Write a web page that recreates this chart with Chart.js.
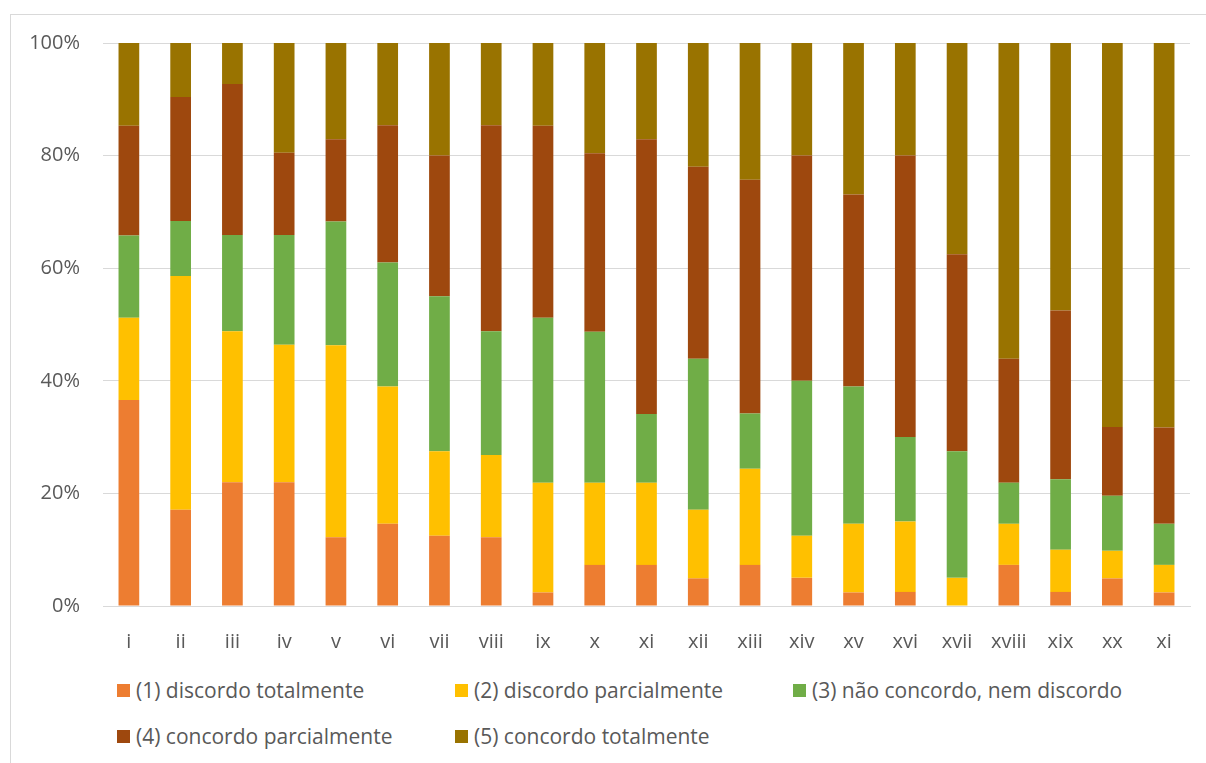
<!DOCTYPE html>
<html lang="pt">

<head>
  <meta charset="UTF-8" />
  <title>Respostas por item</title>
  <script src="https://cdn.jsdelivr.net/npm/chart.js"></script>
  <style>
    html,
    body {
      margin: 0;
      padding: 0;
      background: #fff;
      font-family: 'Open Sans', Lato, sans-serif;
      color: #595959;
      overflow: hidden;
    }

    #frame {
      position: absolute;
      left: 10px;
      top: 14px;
      width: 1210px;
      height: 770px;
      border: 1px solid #d9d9d9;
    }

    #chart-box {
      position: absolute;
      left: 0;
      top: 0;
      width: 1206px;
      height: 660px;
    }

    #legend {
      position: absolute;
      left: 117px;
      top: 677px;
      width: 1030px;
      display: flex;
      flex-wrap: wrap;
    }

    .item {
      width: 338px;
      height: 46px;
      display: flex;
      align-items: flex-start;
      font-size: 21px;
      line-height: 26px;
    }

    .item span.box {
      width: 13px;
      height: 13px;
      margin: 7px 6px 0 0;
      flex: none;
    }
  </style>
</head>

<body>
  <div id="frame"></div>
  <div id="chart-box">
    <canvas id="likertChart" width="1206" height="660"></canvas>
  </div>
  <div id="legend"></div>

  <script>
    // itens do questionario (o ultimo vem assim no original)
    const items = ['i', 'ii', 'iii', 'iv', 'v', 'vi', 'vii', 'viii', 'ix', 'x', 'xi',
      'xii', 'xiii', 'xiv', 'xv', 'xvi', 'xvii', 'xviii', 'xix', 'xx', 'xi'];

    // percentagens de cada resposta por item
    const discordoTotal = [36.6, 17.1, 22.0, 22.0, 12.2, 14.6, 12.5, 12.2, 2.4, 7.3, 7.3,
      4.9, 7.3, 5.0, 2.4, 2.5, 0, 7.3, 2.5, 4.9, 2.4];
    const discordoParcial = [14.6, 41.5, 26.8, 24.4, 34.1, 24.4, 15.0, 14.6, 19.5, 14.6, 14.6,
      12.2, 17.1, 7.5, 12.2, 12.5, 5.0, 7.3, 7.5, 4.9, 4.9];
    const neutro = [14.6, 9.8, 17.1, 19.5, 22.0, 22.0, 27.5, 22.0, 29.3, 26.8, 12.2,
      26.8, 9.8, 27.5, 24.4, 15.0, 22.5, 7.3, 12.5, 9.8, 7.3];
    const concordoParcial = [19.5, 22.0, 26.8, 14.6, 14.6, 24.4, 25.0, 36.6, 34.1, 31.7, 48.8,
      34.1, 41.5, 40.0, 34.1, 50.0, 35.0, 22.0, 30.0, 12.2, 17.1];
    const concordoTotal = [14.7, 9.6, 7.3, 19.5, 17.1, 14.6, 20.0, 14.6, 14.7, 19.6, 17.1,
      22.0, 24.3, 20.0, 26.9, 20.0, 37.5, 56.1, 47.5, 68.2, 68.3];

    const yTicks = [0, 20, 40, 60, 80, 100];

    const seriesNames = ['(1) discordo totalmente', '(2) discordo parcialmente',
      '(3) não concordo, nem discordo', '(4) concordo parcialmente', '(5) concordo totalmente'];
    const seriesColors = ['#ED7D31', '#FFC000', '#70AD47', '#9E480E', '#997300'];
    const seriesData = [discordoTotal, discordoParcial, neutro, concordoParcial, concordoTotal];

    const tickFont = { family: 'Open Sans', size: 20 };

    const ctx = document.getElementById('likertChart').getContext('2d');

    const likertChart = new Chart(ctx, {
      type: 'bar',
      data: {
        labels: items,
        datasets: seriesData.map((d, i) => ({
          label: seriesNames[i],
          data: d,
          backgroundColor: seriesColors[i],
          borderWidth: 0,
          categoryPercentage: 1,
          barPercentage: 0.4
        }))
      },
      options: {
        responsive: false,
        animation: false,
        devicePixelRatio: 1,
        layout: { padding: { left: 0, top: 43, right: 16, bottom: 0 } },
        scales: {
          x: {
            stacked: true,
            grid: { display: false },
            border: { display: true, color: '#d9d9d9', width: 1 },
            ticks: { color: '#595959', font: tickFont, padding: 16, maxRotation: 0 },
            afterFit: (scale) => { scale.height = 54; }
          },
          y: {
            stacked: true,
            min: 0,
            max: 100,
            afterBuildTicks: (scale) => { scale.ticks = yTicks.map(v => ({ value: v })); },
            grid: { color: '#d9d9d9', lineWidth: 1, drawTicks: false },
            border: { display: false },
            ticks: {
              color: '#595959',
              font: tickFont,
              padding: 23,
              callback: (v) => v + '%'
            },
            afterFit: (scale) => { scale.width = 103; }
          }
        },
        plugins: {
          legend: { display: false },
          tooltip: { enabled: false }
        }
      }
    });

    // legenda em html, tres colunas como no excel
    const legendEl = document.getElementById('legend');
    likertChart.data.datasets.forEach((ds) => {
      const item = document.createElement('div');
      item.className = 'item';
      const box = document.createElement('span');
      box.className = 'box';
      box.style.background = ds.backgroundColor;
      const txt = document.createElement('span');
      txt.textContent = ds.label;
      item.appendChild(box);
      item.appendChild(txt);
      legendEl.appendChild(item);
    });
  </script>
</body>

</html>
